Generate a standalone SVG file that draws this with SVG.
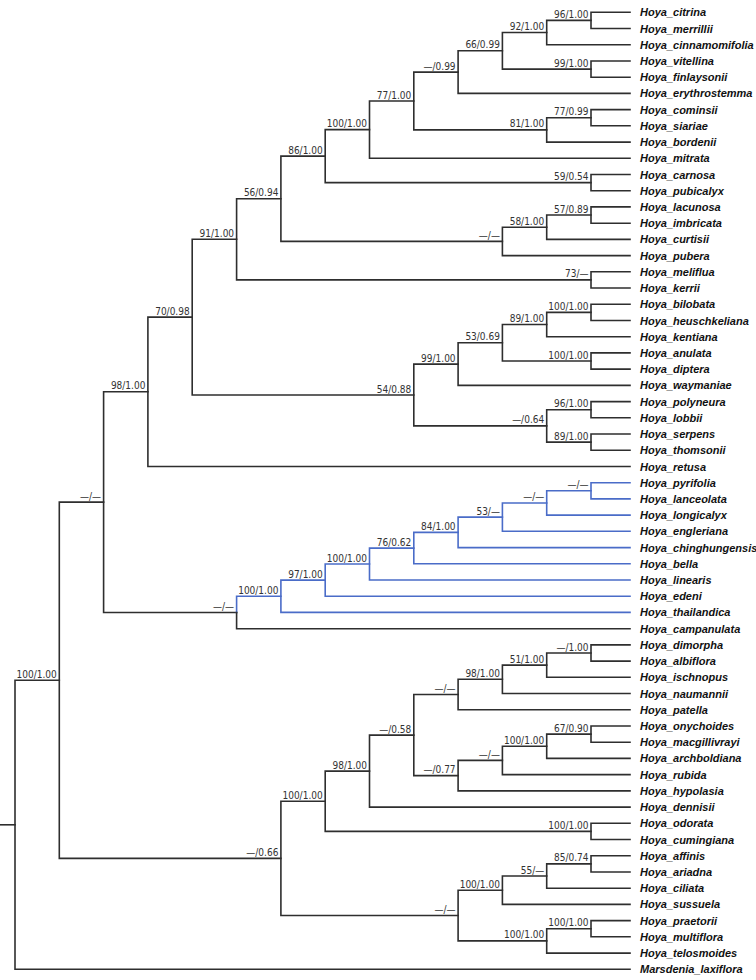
<svg xmlns="http://www.w3.org/2000/svg" width="756" height="980" viewBox="0 0 756 980">
<style>
.b{fill:none;stroke:#2e2e2e;stroke-width:1.6;stroke-linejoin:miter;stroke-linecap:square}
.bl{fill:none;stroke:#4a6cc8;stroke-width:1.6;stroke-linejoin:miter;stroke-linecap:square}
.t{font-family:"Liberation Sans",Arial,sans-serif;font-size:11px;font-weight:bold;font-style:italic;fill:#111}
.s{font-family:"DejaVu Sans Condensed","Noto Sans",sans-serif;font-size:10px;fill:#333;text-anchor:end}
</style>
<rect width="756" height="980" fill="#fff"/>
<g id="connectors">
<path class="b" d="M0 824.8H15"/>
<path class="b" d="M59.3 680.25H15V969.3H630"/>
<path class="b" d="M103.6 502.1H59.3V858.4H280.9"/>
<path class="b" d="M147.9 391.8H103.6V612.5H236.6"/>
<path class="b" d="M192.2 317.15H147.9V466.5H630"/>
<path class="b" d="M236.6 239.3H192.2V395H413.8"/>
<path class="b" d="M280.9 198.75H236.6V279.9H591"/>
<path class="b" d="M325.2 156.1H280.9V241.4H502.4"/>
<path class="b" d="M369.5 129.65H325.2V182.6H591"/>
<path class="b" d="M413.8 101H369.5V158.3H630"/>
<path class="b" d="M458.1 72.1H413.8V129.9H546.7"/>
<path class="b" d="M502.4 50.8H458.1V93.4H630"/>
<path class="b" d="M546.7 32.55H502.4V69.1H591"/>
<path class="b" d="M591 20.4H546.7V44.7H630"/>
<path class="b" d="M630 12.3H591V28.5H630"/>
<path class="b" d="M630 61H591V77.2H630"/>
<path class="b" d="M630 109.6H591V125.8H630"/>
<path class="b" d="M591 117.7H546.7V142.1H630"/>
<path class="b" d="M630 174.5H591V190.7H630"/>
<path class="b" d="M630 206.9H591V223.2H630"/>
<path class="b" d="M591 215.05H546.7V239.4H630"/>
<path class="b" d="M546.7 227.2H502.4V255.6H630"/>
<path class="b" d="M630 271.8H591V288H630"/>
<path class="b" d="M630 304.3H591V320.5H630"/>
<path class="b" d="M591 312.4H546.7V336.7H630"/>
<path class="b" d="M630 352.9H591V369.1H630"/>
<path class="b" d="M546.7 324.55H502.4V361H591"/>
<path class="b" d="M502.4 342.8H458.1V385.4H630"/>
<path class="b" d="M630 401.6H591V417.8H630"/>
<path class="b" d="M630 434H591V450.2H630"/>
<path class="b" d="M591 409.7H546.7V442.1H591"/>
<path class="b" d="M458.1 364.1H413.8V425.9H546.7"/>
<path class="bl" d="M630 482.7H591V498.9H630"/>
<path class="bl" d="M591 490.8H546.7V515.1H630"/>
<path class="bl" d="M546.7 502.95H502.4V531.3H630"/>
<path class="bl" d="M502.4 517.1H458.1V547.6H630"/>
<path class="bl" d="M458.1 532.35H413.8V563.8H630"/>
<path class="bl" d="M413.8 548.1H369.5V580H630"/>
<path class="bl" d="M369.5 564H325.2V596.2H630"/>
<path class="bl" d="M325.2 580.1H280.9V612.4H630"/>
<path class="bl" d="M280.9 596.25H236.6V612.5"/>
<path class="b" d="M236.6 612.5V628.7H630"/>
<path class="b" d="M630 644.9H591V661.1H630"/>
<path class="b" d="M591 653H546.7V677.3H630"/>
<path class="b" d="M546.7 665.15H502.4V693.5H630"/>
<path class="b" d="M502.4 679.3H458.1V709.8H630"/>
<path class="b" d="M630 726H591V742.2H630"/>
<path class="b" d="M591 734.1H546.7V758.4H630"/>
<path class="b" d="M546.7 746.25H502.4V774.6H630"/>
<path class="b" d="M502.4 760.4H458.1V790.9H630"/>
<path class="b" d="M458.1 694.55H413.8V775.65H458.1"/>
<path class="b" d="M413.8 735.1H369.5V807.1H630"/>
<path class="b" d="M630 823.3H591V839.5H630"/>
<path class="b" d="M369.5 771.1H325.2V831.4H591"/>
<path class="b" d="M630 855.7H591V872H630"/>
<path class="b" d="M591 863.85H546.7V888.2H630"/>
<path class="b" d="M546.7 876H502.4V904.4H630"/>
<path class="b" d="M630 920.6H591V936.8H630"/>
<path class="b" d="M591 928.7H546.7V953.1H630"/>
<path class="b" d="M502.4 890.2H458.1V940.9H546.7"/>
<path class="b" d="M325.2 801.25H280.9V915.55H458.1"/>
</g>
<g id="support-labels">
<g id="n-A"><text class="s" x="588.5" y="17.9">96/1.00</text></g>
<g id="n-B"><text class="s" x="544.2" y="30.1">92/1.00</text></g>
<g id="n-C"><text class="s" x="588.5" y="66.6">99/1.00</text></g>
<g id="n-D"><text class="s" x="499.9" y="48.3">66/0.99</text></g>
<g id="n-E"><text class="s" x="455.6" y="69.6">—/0.99</text></g>
<g id="n-F"><text class="s" x="588.5" y="115.2">77/0.99</text></g>
<g id="n-G"><text class="s" x="544.2" y="127.4">81/1.00</text></g>
<g id="n-H"><text class="s" x="411.3" y="98.5">77/1.00</text></g>
<g id="n-I"><text class="s" x="367" y="127.15">100/1.00</text></g>
<g id="n-J"><text class="s" x="588.5" y="180.1">59/0.54</text></g>
<g id="n-K"><text class="s" x="322.7" y="153.6">86/1.00</text></g>
<g id="n-L"><text class="s" x="588.5" y="212.55">57/0.89</text></g>
<g id="n-M"><text class="s" x="544.2" y="224.7">58/1.00</text></g>
<g id="n-N"><text class="s" x="499.9" y="238.9">—/—</text></g>
<g id="n-O"><text class="s" x="278.4" y="196.25">56/0.94</text></g>
<g id="n-P"><text class="s" x="588.5" y="277.4">73/—</text></g>
<g id="n-Q"><text class="s" x="234.1" y="236.8">91/1.00</text></g>
<g id="n-R"><text class="s" x="588.5" y="309.9">100/1.00</text></g>
<g id="n-S"><text class="s" x="544.2" y="322.05">89/1.00</text></g>
<g id="n-T"><text class="s" x="588.5" y="358.5">100/1.00</text></g>
<g id="n-U"><text class="s" x="499.9" y="340.3">53/0.69</text></g>
<g id="n-V"><text class="s" x="455.6" y="361.6">99/1.00</text></g>
<g id="n-W"><text class="s" x="588.5" y="407.2">96/1.00</text></g>
<g id="n-X"><text class="s" x="588.5" y="439.6">89/1.00</text></g>
<g id="n-Y"><text class="s" x="544.2" y="423.4">—/0.64</text></g>
<g id="n-Z"><text class="s" x="411.3" y="392.5">54/0.88</text></g>
<g id="n-AA"><text class="s" x="189.7" y="314.65">70/0.98</text></g>
<g id="n-AB"><text class="s" x="145.4" y="389.3">98/1.00</text></g>
<g id="n-BA"><text class="s" x="588.5" y="488.3">—/—</text></g>
<g id="n-BB"><text class="s" x="544.2" y="500.45">—/—</text></g>
<g id="n-BC"><text class="s" x="499.9" y="514.6">53/—</text></g>
<g id="n-BD"><text class="s" x="455.6" y="529.85">84/1.00</text></g>
<g id="n-BE"><text class="s" x="411.3" y="545.6">76/0.62</text></g>
<g id="n-BF"><text class="s" x="367" y="561.5">100/1.00</text></g>
<g id="n-BG"><text class="s" x="322.7" y="577.6">97/1.00</text></g>
<g id="n-BH"><text class="s" x="278.4" y="593.75">100/1.00</text></g>
<g id="n-BI"><text class="s" x="234.1" y="610">—/—</text></g>
<g id="n-AC"><text class="s" x="101.1" y="499.6">—/—</text></g>
<g id="n-CA"><text class="s" x="588.5" y="650.5">—/1.00</text></g>
<g id="n-CB"><text class="s" x="544.2" y="662.65">51/1.00</text></g>
<g id="n-CC"><text class="s" x="499.9" y="676.8">98/1.00</text></g>
<g id="n-CD"><text class="s" x="455.6" y="692.05">—/—</text></g>
<g id="n-CE"><text class="s" x="588.5" y="731.6">67/0.90</text></g>
<g id="n-CF"><text class="s" x="544.2" y="743.75">100/1.00</text></g>
<g id="n-CG"><text class="s" x="499.9" y="757.9">—/—</text></g>
<g id="n-CH"><text class="s" x="455.6" y="773.15">—/0.77</text></g>
<g id="n-CI"><text class="s" x="411.3" y="732.6">—/0.58</text></g>
<g id="n-CJ"><text class="s" x="367" y="768.6">98/1.00</text></g>
<g id="n-CK"><text class="s" x="588.5" y="828.9">100/1.00</text></g>
<g id="n-CL"><text class="s" x="322.7" y="798.75">100/1.00</text></g>
<g id="n-CM"><text class="s" x="588.5" y="861.35">85/0.74</text></g>
<g id="n-CN"><text class="s" x="544.2" y="873.5">55/—</text></g>
<g id="n-CO"><text class="s" x="499.9" y="887.7">100/1.00</text></g>
<g id="n-CP"><text class="s" x="588.5" y="926.2">100/1.00</text></g>
<g id="n-CQ"><text class="s" x="544.2" y="938.4">100/1.00</text></g>
<g id="n-CR"><text class="s" x="455.6" y="913.05">—/—</text></g>
<g id="n-CS"><text class="s" x="278.4" y="855.9">—/0.66</text></g>
<g id="n-AD"><text class="s" x="56.8" y="677.75">100/1.00</text></g>
</g>
<g id="tips">
<g id="tip-citrina"><text class="t" x="640" y="16.3">Hoya_citrina</text></g>
<g id="tip-merrillii"><text class="t" x="640" y="32.5">Hoya_merrillii</text></g>
<g id="tip-cinnamomifolia"><text class="t" x="640" y="48.7">Hoya_cinnamomifolia</text></g>
<g id="tip-vitellina"><text class="t" x="640" y="65">Hoya_vitellina</text></g>
<g id="tip-finlaysonii"><text class="t" x="640" y="81.2">Hoya_finlaysonii</text></g>
<g id="tip-erythrostemma"><text class="t" x="640" y="97.4">Hoya_erythrostemma</text></g>
<g id="tip-cominsii"><text class="t" x="640" y="113.6">Hoya_cominsii</text></g>
<g id="tip-siariae"><text class="t" x="640" y="129.8">Hoya_siariae</text></g>
<g id="tip-bordenii"><text class="t" x="640" y="146.1">Hoya_bordenii</text></g>
<g id="tip-mitrata"><text class="t" x="640" y="162.3">Hoya_mitrata</text></g>
<g id="tip-carnosa"><text class="t" x="640" y="178.5">Hoya_carnosa</text></g>
<g id="tip-pubicalyx"><text class="t" x="640" y="194.7">Hoya_pubicalyx</text></g>
<g id="tip-lacunosa"><text class="t" x="640" y="210.9">Hoya_lacunosa</text></g>
<g id="tip-imbricata"><text class="t" x="640" y="227.2">Hoya_imbricata</text></g>
<g id="tip-curtisii"><text class="t" x="640" y="243.4">Hoya_curtisii</text></g>
<g id="tip-pubera"><text class="t" x="640" y="259.6">Hoya_pubera</text></g>
<g id="tip-meliflua"><text class="t" x="640" y="275.8">Hoya_meliflua</text></g>
<g id="tip-kerrii"><text class="t" x="640" y="292">Hoya_kerrii</text></g>
<g id="tip-bilobata"><text class="t" x="640" y="308.3">Hoya_bilobata</text></g>
<g id="tip-heuschkeliana"><text class="t" x="640" y="324.5">Hoya_heuschkeliana</text></g>
<g id="tip-kentiana"><text class="t" x="640" y="340.7">Hoya_kentiana</text></g>
<g id="tip-anulata"><text class="t" x="640" y="356.9">Hoya_anulata</text></g>
<g id="tip-diptera"><text class="t" x="640" y="373.1">Hoya_diptera</text></g>
<g id="tip-waymaniae"><text class="t" x="640" y="389.4">Hoya_waymaniae</text></g>
<g id="tip-polyneura"><text class="t" x="640" y="405.6">Hoya_polyneura</text></g>
<g id="tip-lobbii"><text class="t" x="640" y="421.8">Hoya_lobbii</text></g>
<g id="tip-serpens"><text class="t" x="640" y="438">Hoya_serpens</text></g>
<g id="tip-thomsonii"><text class="t" x="640" y="454.2">Hoya_thomsonii</text></g>
<g id="tip-retusa"><text class="t" x="640" y="470.5">Hoya_retusa</text></g>
<g id="tip-pyrifolia"><text class="t" x="640" y="486.7">Hoya_pyrifolia</text></g>
<g id="tip-lanceolata"><text class="t" x="640" y="502.9">Hoya_lanceolata</text></g>
<g id="tip-longicalyx"><text class="t" x="640" y="519.1">Hoya_longicalyx</text></g>
<g id="tip-engleriana"><text class="t" x="640" y="535.3">Hoya_engleriana</text></g>
<g id="tip-chinghungensis"><text class="t" x="640" y="551.6">Hoya_chinghungensis</text></g>
<g id="tip-bella"><text class="t" x="640" y="567.8">Hoya_bella</text></g>
<g id="tip-linearis"><text class="t" x="640" y="584">Hoya_linearis</text></g>
<g id="tip-edeni"><text class="t" x="640" y="600.2">Hoya_edeni</text></g>
<g id="tip-thailandica"><text class="t" x="640" y="616.4">Hoya_thailandica</text></g>
<g id="tip-campanulata"><text class="t" x="640" y="632.7">Hoya_campanulata</text></g>
<g id="tip-dimorpha"><text class="t" x="640" y="648.9">Hoya_dimorpha</text></g>
<g id="tip-albiflora"><text class="t" x="640" y="665.1">Hoya_albiflora</text></g>
<g id="tip-ischnopus"><text class="t" x="640" y="681.3">Hoya_ischnopus</text></g>
<g id="tip-naumannii"><text class="t" x="640" y="697.5">Hoya_naumannii</text></g>
<g id="tip-patella"><text class="t" x="640" y="713.8">Hoya_patella</text></g>
<g id="tip-onychoides"><text class="t" x="640" y="730">Hoya_onychoides</text></g>
<g id="tip-macgillivrayi"><text class="t" x="640" y="746.2">Hoya_macgillivrayi</text></g>
<g id="tip-archboldiana"><text class="t" x="640" y="762.4">Hoya_archboldiana</text></g>
<g id="tip-rubida"><text class="t" x="640" y="778.6">Hoya_rubida</text></g>
<g id="tip-hypolasia"><text class="t" x="640" y="794.9">Hoya_hypolasia</text></g>
<g id="tip-dennisii"><text class="t" x="640" y="811.1">Hoya_dennisii</text></g>
<g id="tip-odorata"><text class="t" x="640" y="827.3">Hoya_odorata</text></g>
<g id="tip-cumingiana"><text class="t" x="640" y="843.5">Hoya_cumingiana</text></g>
<g id="tip-affinis"><text class="t" x="640" y="859.7">Hoya_affinis</text></g>
<g id="tip-ariadna"><text class="t" x="640" y="876">Hoya_ariadna</text></g>
<g id="tip-ciliata"><text class="t" x="640" y="892.2">Hoya_ciliata</text></g>
<g id="tip-sussuela"><text class="t" x="640" y="908.4">Hoya_sussuela</text></g>
<g id="tip-praetorii"><text class="t" x="640" y="924.6">Hoya_praetorii</text></g>
<g id="tip-multiflora"><text class="t" x="640" y="940.8">Hoya_multiflora</text></g>
<g id="tip-telosmoides"><text class="t" x="640" y="957.1">Hoya_telosmoides</text></g>
<g id="tip-laxiflora"><text class="t" x="640" y="973.3">Marsdenia_laxiflora</text></g>
</g>
</svg>
